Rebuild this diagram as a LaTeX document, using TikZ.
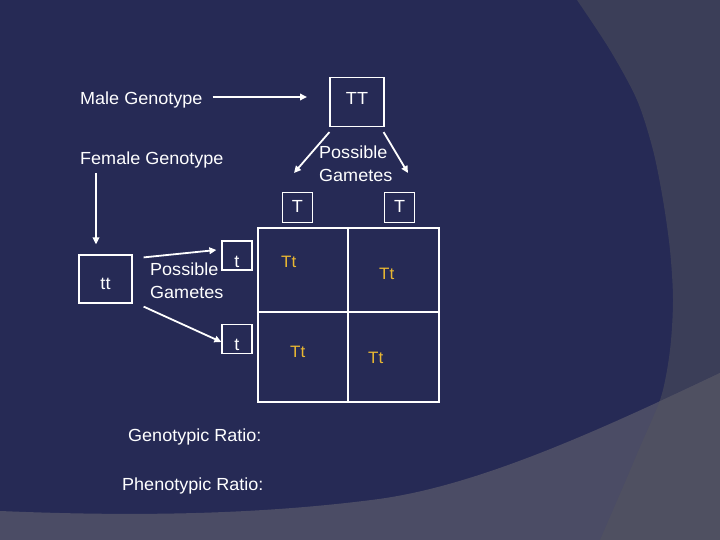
\documentclass[tikz,border=0pt]{standalone}
\usepackage{fontspec}
\setmainfont{Liberation Sans}[FakeStretch=1.03]
\usetikzlibrary{arrows.meta}
\definecolor{slidenavy}{HTML}{262A55}
\definecolor{slidegrey}{HTML}{3B3E58}
\definecolor{slidelow}{HTML}{4B4C65}
\definecolor{slidecorner}{HTML}{4F5061}
\definecolor{alleleyellow}{HTML}{E9B732}

\begin{document}
\begin{tikzpicture}[x=1pt, y=-1pt,
    lbl/.style={text=white, font=\fontsize{17.5}{22.5}\selectfont, inner sep=0pt, anchor=base west, align=left},
    gbox/.style={draw=white, line width=1.2pt, text=white, font=\fontsize{17.5}{20}\selectfont, inner sep=0pt},
    cross/.style={text=alleleyellow, font=\fontsize{16.5}{20}\selectfont, inner sep=0pt, anchor=base west},
    arr/.style={draw=white, line width=1.8pt, -{Triangle[length=7pt,width=6.5pt]}}]
                    \useasboundingbox (0,0) rectangle (720,540);
                    \fill[slidenavy] (0,0) rectangle (720,540);
                    \fill[slidegrey] plot[smooth] coordinates {(577,0) (610,50) (637,100) (653,150) (663,200) (670,250) (673,300) (670,350) (661,397) (640,447) (623,487) (600,540)} -- (720,540) -- (720,0) -- cycle;
                    \fill[slidelow] (0,511) .. controls (120,516) and (250,516) .. (379,499) .. controls (480,485) and (600,430) .. (720,373) -- (720,540) -- (0,540) -- cycle;
                    \begin{scope}
                    \clip plot[smooth] coordinates {(577,0) (610,50) (637,100) (653,150) (663,200) (670,250) (673,300) (670,350) (661,397) (640,447) (623,487) (600,540)} -- (720,540) -- (720,0) -- cycle;
                    \fill[slidecorner] (0,511) .. controls (120,516) and (250,516) .. (379,499) .. controls (480,485) and (600,430) .. (720,373) -- (720,540) -- (0,540) -- cycle;
                    \end{scope}

                    \node[lbl] (male) at (80,105) {Male Genotype};
                    \node[lbl] (female) at (80,165) {Female Genotype};
                    \node[gbox, minimum width=54pt, minimum height=49pt, text height=12pt, text depth=6pt] (TT) at (357,102) {TT};
                    \node[gbox, minimum width=53pt, minimum height=48pt, text height=20pt, text depth=0pt] (tt) at (105.5,279) {tt};
                    \node[lbl, anchor=north west] (gamM) at (319,146) {Possible\\Gametes};
                    \node[lbl, anchor=north west] (gamF) at (150,263) {Possible\\Gametes};

                    \node[gbox, minimum width=30pt, minimum height=30pt, text height=11pt, text depth=0pt] (T1) at (297.5,207.5) {T};
                    \node[gbox, minimum width=30pt, minimum height=30pt, text height=11pt, text depth=0pt] (T2) at (399.5,207.5) {T};
                    \node[gbox, minimum width=30pt, minimum height=29pt, text height=23pt, text depth=0pt] (t1) at (237,255.5) {t};
                    \node[gbox, minimum width=30pt, minimum height=29pt, text height=23pt, text depth=0pt] (t2) at (237,339) {t};

                    \draw[white, line width=1.2pt] (258,228) rectangle (439,402) (348,228) -- (348,402) (258,312) -- (439,312);
                    \node[cross] (x11) at (281,267) {Tt};
                    \node[cross] (x12) at (379,279) {Tt};
                    \node[cross] (x21) at (290,357) {Tt};
                    \node[cross] (x22) at (368,363) {Tt};

                    \node[lbl] (geno) at (128,441) {Genotypic Ratio:};
                    \node[lbl] (pheno) at (122,490) {Phenotypic Ratio:};

                    \coordinate (mEnd) at (307,97);
                    \coordinate (fStart) at (96,173);
                    \coordinate (gL) at (294,173);
                    \coordinate (gR) at (408,173);

                    \draw[arr] ([xshift=10pt,yshift=8pt]male.base east) -- (mEnd);
                    \draw[arr] (fStart) -- ([xshift=-9.5pt,yshift=10pt]tt.north);
                    \draw[arr] ([yshift=-5pt]TT.south west) -- (gL);
                    \draw[arr] ([xshift=-1pt,yshift=-5pt]TT.south east) -- (gR);
                    \draw[arr] ([xshift=11pt,yshift=-3pt]tt.north east) -- ([xshift=-5pt,yshift=5.5pt]t1.west);
                    \draw[arr] ([xshift=11pt,yshift=-3pt]tt.south east) -- ([yshift=-3pt]t2.west);
                \end{tikzpicture}
\end{document}
